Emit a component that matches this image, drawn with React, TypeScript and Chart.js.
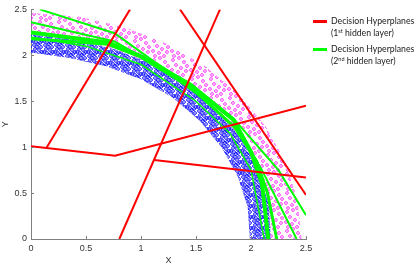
import React, { useEffect, useRef } from 'react';
import { Chart, registerables } from 'chart.js';
Chart.register(...registerables);

// ---- axis ticks ----
const xTicks = [0, 0.5, 1, 1.5, 2, 2.5];
const yTicks = [0, 0.5, 1, 1.5, 2, 2.5];

// ---- sample bands (boundaries) ----
const innerArc = [
  { x: 0, y: 2.03 }, { x: 0.347, y: 1.97 }, { x: 0.684, y: 1.88 }, { x: 1.0, y: 1.74 },
  { x: 1.286, y: 1.54 }, { x: 1.532, y: 1.29 }, { x: 1.732, y: 1.0 }, { x: 1.879, y: 0.684 },
  { x: 1.97, y: 0.347 }, { x: 1.99, y: 0 },
];
const middleArc = [
  { x: 0, y: 2.23 }, { x: 0.382, y: 2.17 }, { x: 0.752, y: 2.07 }, { x: 1.1, y: 1.905 },
  { x: 1.414, y: 1.685 }, { x: 1.685, y: 1.414 }, { x: 1.905, y: 1.1 }, { x: 2.067, y: 0.752 },
  { x: 2.16, y: 0.382 }, { x: 2.18, y: 0 },
];
const outerArc = [
  { x: 0, y: 2.46 }, { x: 0.427, y: 2.423 }, { x: 0.841, y: 2.312 }, { x: 1.23, y: 2.13 },
  { x: 1.581, y: 1.884 }, { x: 1.884, y: 1.581 }, { x: 2.13, y: 1.23 }, { x: 2.312, y: 0.841 },
  { x: 2.423, y: 0.427 }, { x: 2.46, y: 0 },
];

// ---- decision hyperplanes, 1st hidden layer (red) ----
const red1 = [{ x: 0, y: 1.01 }, { x: 0.764, y: 0.906 }, { x: 2.5, y: 1.45 }];
const red2 = [{ x: 0.14, y: 0.99 }, { x: 0.9, y: 2.5 }];
const red3 = [{ x: 0.803, y: 0 }, { x: 1.718, y: 2.5 }];
const red4 = [{ x: 1.355, y: 2.5 }, { x: 2.5, y: 0.48 }];
const red5 = [{ x: 1.12, y: 0.86 }, { x: 2.5, y: 0.67 }];

// ---- decision hyperplanes, 2nd hidden layer (green) ----
const green1 = [
  { x: 0.08, y: 2.5 }, { x: 0.76, y: 2.24 }, { x: 1.11, y: 1.94 }, { x: 1.5, y: 1.63 },
  { x: 1.85, y: 1.3 }, { x: 2.25, y: 0.75 }, { x: 2.5, y: 0.26 },
];
const green2 = [
  { x: 0, y: 2.36 }, { x: 0.76, y: 2.15 }, { x: 1.2, y: 1.85 }, { x: 1.6, y: 1.5 },
  { x: 1.9, y: 1.15 }, { x: 2.1, y: 0.75 }, { x: 2.415, y: 0 },
];
const green3 = [
  { x: 0, y: 2.25 }, { x: 0.7, y: 2.14 }, { x: 1.0, y: 1.99 }, { x: 1.45, y: 1.68 },
  { x: 1.84, y: 1.3 }, { x: 2.0, y: 0.95 }, { x: 2.1, y: 0.6 }, { x: 2.157, y: 0 },
];
const green4 = [
  { x: 0, y: 2.18 }, { x: 0.7, y: 2.12 }, { x: 1.0, y: 1.98 }, { x: 1.45, y: 1.65 },
  { x: 1.85, y: 1.22 }, { x: 2.05, y: 0.85 }, { x: 2.15, y: 0.5 }, { x: 2.234, y: 0 },
];
const green5 = [
  { x: 0, y: 2.2 }, { x: 0.5, y: 2.1 }, { x: 1.0, y: 1.9 }, { x: 1.5, y: 1.5 },
  { x: 1.81, y: 1.15 }, { x: 2.0, y: 0.75 }, { x: 2.12, y: 0 },
];

const RED = '#ff0000';
const GREEN = '#00ff00';

function makePattern(color: string, spots: number[][], size: number, lw: number) {
  const c = document.createElement('canvas');
  c.width = size;
  c.height = size;
  const g = c.getContext('2d')!;
  g.strokeStyle = color;
  g.lineWidth = lw;
  for (const [sx, sy] of spots) {
    for (const ox of [-size, 0, size]) {
      for (const oy of [-size, 0, size]) {
        g.beginPath();
        g.arc(sx + ox, sy + oy, 1.4, 0, Math.PI * 2);
        g.stroke();
      }
    }
  }
  return g.createPattern(c, 'repeat')!;
}

const innerTicks = {
  id: 'innerTicks',
  afterDraw(chart: any) {
    const { ctx, chartArea, scales } = chart;
    ctx.save();
    ctx.strokeStyle = '#808080';
    ctx.lineWidth = 1;
    xTicks.forEach((v) => {
      const px = Math.round(scales.x.getPixelForValue(v)) + 0.5;
      ctx.beginPath();
      ctx.moveTo(px, chartArea.bottom);
      ctx.lineTo(px, chartArea.bottom - 3);
      ctx.stroke();
    });
    yTicks.forEach((v) => {
      const py = Math.round(scales.y.getPixelForValue(v)) + 0.5;
      ctx.beginPath();
      ctx.moveTo(chartArea.left, py);
      ctx.lineTo(chartArea.left + 3, py);
      ctx.stroke();
    });
    ctx.restore();
  },
};

export default function App() {
  const ref = useRef<HTMLCanvasElement>(null);
  useEffect(() => {
    document.body.style.margin = '0';
    const bluePat = makePattern('rgba(0,0,255,0.9)', [
      [1, 1], [5, 0], [8, 3], [2, 5], [6, 6], [9, 8], [3, 9], [0, 8], [7, 10], [4, 3],
    ], 11, 1);
    const pinkPat = makePattern('rgba(255,0,255,0.85)', [
      [2, 3], [8, 1], [13, 5], [5, 8], [10, 11], [1, 13], [15, 14], [7, 15], [12, 18], [3, 18], [16, 9],
    ], 19, 0.9);
    const lineDs = (data: any[], color: string, w: number) => ({
      type: 'line' as const,
      data,
      borderColor: color,
      borderWidth: w,
      pointRadius: 0,
      fill: false,
      tension: 0,
    });
    const bluePoly = innerArc.concat(middleArc.slice().reverse());
    const pinkPoly = middleArc.concat(outerArc.slice().reverse());
    const tickFont = { family: 'Liberation Sans', size: 9 };
    const chart = new Chart(ref.current!, {
      type: 'line',
      data: {
        datasets: [
          lineDs(red1, RED, 2),
          lineDs(red2, RED, 2),
          lineDs(red3, RED, 2),
          lineDs(red4, RED, 2),
          lineDs(red5, RED, 2),
          lineDs(green1, GREEN, 2),
          lineDs(green2, GREEN, 2),
          lineDs(green3, GREEN, 4),
          lineDs(green4, GREEN, 3),
          lineDs(green5, GREEN, 1.5),
          {
            type: 'line',
            data: bluePoly,
            borderWidth: 0,
            borderColor: 'rgba(0,0,0,0)',
            backgroundColor: bluePat as any,
            pointRadius: 0,
            fill: 'shape',
            tension: 0,
          },
          {
            type: 'line',
            data: pinkPoly,
            borderWidth: 0,
            borderColor: 'rgba(0,0,0,0)',
            backgroundColor: pinkPat as any,
            pointRadius: 0,
            fill: 'shape',
            tension: 0,
          },
        ] as any,
      },
      options: {
        animation: false,
        responsive: false,
        parsing: false as any,
        layout: { padding: { top: 8, right: 109, left: 0, bottom: 0 } },
        plugins: { legend: { display: false }, tooltip: { enabled: false } },
        scales: {
          x: {
            type: 'linear',
            min: 0,
            max: 2.5,
            afterBuildTicks: (s: any) => { s.ticks = xTicks.map((v) => ({ value: v })); },
            ticks: { color: '#333', padding: 4, font: tickFont, callback: (v: any) => String(v) },
            grid: { display: false, drawTicks: false },
            border: { color: '#808080', width: 1 },
            title: { display: true, text: 'X', color: '#333', padding: 0, font: tickFont },
            afterFit: (s: any) => { s.height = 27; },
          },
          y: {
            type: 'linear',
            min: 0,
            max: 2.5,
            afterBuildTicks: (s: any) => { s.ticks = yTicks.map((v) => ({ value: v })); },
            ticks: { color: '#333', padding: 4, font: tickFont, callback: (v: any) => String(v) },
            grid: { display: false, drawTicks: false },
            border: { color: '#808080', width: 1 },
            title: { display: true, text: 'Y', color: '#333', padding: 0, font: tickFont },
            afterFit: (s: any) => { s.width = 31; },
          },
        },
      },
      plugins: [innerTicks],
    });
    return () => chart.destroy();
  }, []);

  const legendText: React.CSSProperties = {
    position: 'absolute',
    left: 331,
    fontFamily: 'Lato, "Liberation Sans", sans-serif',
    fontSize: 8.7,
    lineHeight: '12px',
    color: '#1a1a1a',
    whiteSpace: 'nowrap',
  };
  const sup: React.CSSProperties = { fontSize: 5.5, verticalAlign: 'top', lineHeight: '8px' };
  return (
    <div style={{ position: 'relative', width: 415, height: 266 }}>
      <canvas ref={ref} width={415} height={266} style={{ display: 'block' }} />
      <div style={{ position: 'absolute', left: 313, top: 20, width: 14, height: 2.5, background: RED }} />
      <div style={{ ...legendText, top: 15 }}>
        Decision Hyperplanes<br />(1<span style={sup}>st</span> hidden layer)
      </div>
      <div style={{ position: 'absolute', left: 313, top: 48, width: 14, height: 2.5, background: GREEN }} />
      <div style={{ ...legendText, top: 43 }}>
        Decision Hyperplanes<br />(2<span style={sup}>nd</span> hidden layer)
      </div>
    </div>
  );
}
